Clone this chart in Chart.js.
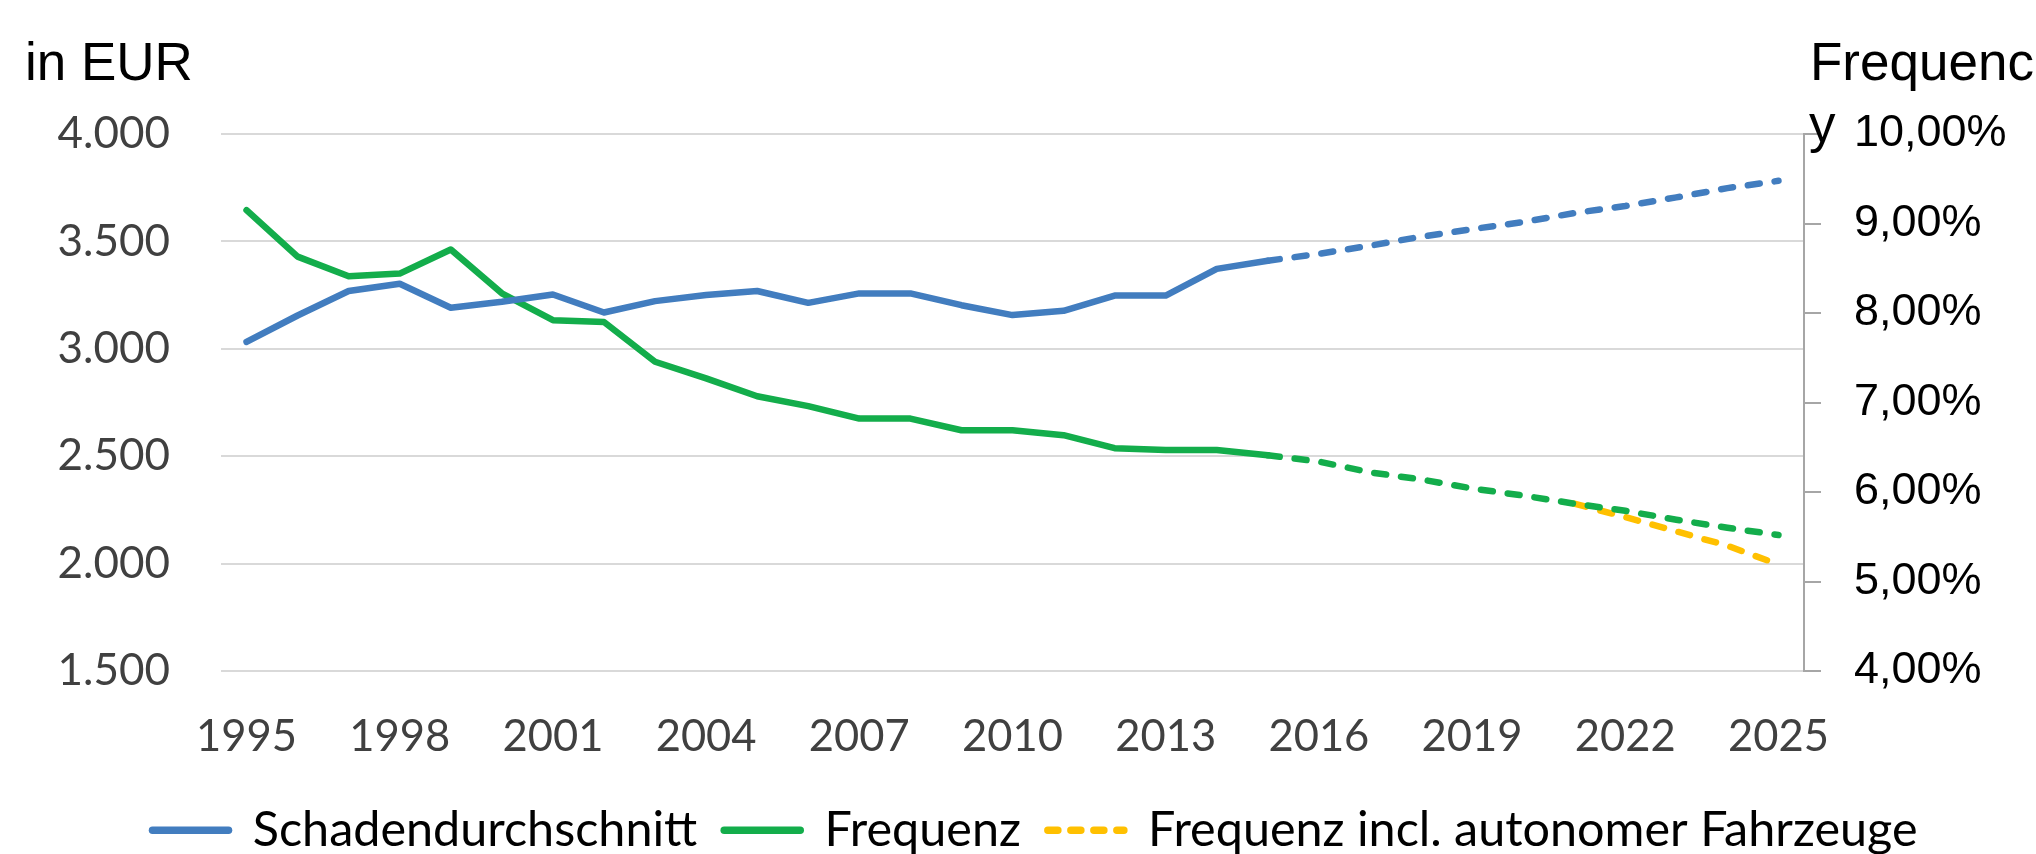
<!DOCTYPE html>
<html>
<head>
<meta charset="utf-8">
<script src="https://cdn.jsdelivr.net/npm/chart.js@4.4.1/dist/chart.umd.min.js"></script>
<style>
  html, body { margin: 0; padding: 0; background: #ffffff; }
  #wrap { width: 2036px; height: 854px; }
</style>
</head>
<body>
<div id="wrap"><canvas id="c" width="2036" height="854"></canvas></div>
<script>
// ---- data ----
const years = ['1995','1996','1997','1998','1999','2000','2001','2002','2003','2004',
               '2005','2006','2007','2008','2009','2010','2011','2012','2013','2014',
               '2015','2016','2017','2018','2019','2020','2021','2022','2023','2024','2025'];
const xTickLabels = ['1995','1998','2001','2004','2007','2010','2013','2016','2019','2022','2025'];

// Schadendurchschnitt in EUR (left axis); from 2015 on: projection (dashed)
const schadendurchschnitt = [3032, 3155, 3269, 3303, 3191, 3219, 3253, 3169, 3222, 3250,
                             3269, 3214, 3258, 3258, 3203, 3157, 3177, 3248, 3248, 3372,
                             3410, 3442, 3480, 3522, 3557, 3590, 3632, 3665, 3705, 3748, 3782];
// Frequenz in % (right axis); from 2015 on: projection (dashed)
const frequenz = [9.15, 8.63, 8.41, 8.44, 8.71, 8.22, 7.92, 7.90, 7.455, 7.27,
                  7.07, 6.96, 6.82, 6.82, 6.69, 6.69, 6.635, 6.49, 6.47, 6.47,
                  6.41, 6.34, 6.22, 6.14, 6.04, 5.96, 5.87, 5.79, 5.69, 5.60, 5.52];
// Frequenz incl. autonomer Fahrzeuge in % (right axis)
const frequenzAutonom = [null, null, null, null, null, null, null, null, null, null,
                         null, null, null, null, null, null, null, null, null, null,
                         null, null, null, null, null, null, 5.87, 5.72, 5.56, 5.40, 5.19];

const projectionStartYear = '2015';
const leftTicks = [1500, 2000, 2500, 3000, 3500, 4000];
const rightTicks = [4, 5, 6, 7, 8, 9, 10];
const leftAxisTitle = 'in EUR';
const rightAxisTitleLines = ['Frequenc', 'y'];
const seriesNames = ['Schadendurchschnitt', 'Frequenz', 'Frequenz incl. autonomer Fahrzeuge'];

// ---- styling ----
const BLUE = '#427DBF';
const GREEN = '#13AD4B';
const GOLD = '#FFC000';
const DASH = [12, 15];
const LEGEND_DASH = [10, 13];
const projIdx = years.indexOf(projectionStartYear);

const fmtEUR = v => {
  const s = String(Math.round(v));
  return s.replace(/\B(?=(\d{3})+(?!\d))/g, '.');
};
const fmtPct = v => v.toFixed(2).replace('.', ',') + '%';

const titlePlugin = {
  id: 'axisTitlesTop',
  afterDraw(chart) {
    const { ctx, chartArea, scales } = chart;
    ctx.save();
    ctx.font = '53px "Liberation Sans", Arial, sans-serif';
    ctx.fillStyle = '#000000';
    ctx.textAlign = 'left';
    ctx.textBaseline = 'alphabetic';
    ctx.fillText(leftAxisTitle, 25, chartArea.top - 54);
    ctx.fillText(rightAxisTitleLines[0], scales.y1.left + 6, chartArea.top - 54);
    ctx.fillText(rightAxisTitleLines[1], scales.y1.left + 5, chartArea.top + 8);
    ctx.restore();
  }
};

const projSegment = {
  borderDash: c => (c.p0DataIndex >= projIdx ? DASH : undefined)
};

new Chart(document.getElementById('c'), {
  type: 'line',
  data: {
    labels: years,
    datasets: [
      {
        label: seriesNames[0],
        data: schadendurchschnitt,
        yAxisID: 'y',
        borderColor: BLUE,
        backgroundColor: BLUE,
        borderWidth: 6.5,
        borderCapStyle: 'round',
        borderJoinStyle: 'round',
        pointRadius: 0,
        tension: 0,
        segment: projSegment
      },
      {
        label: seriesNames[1],
        data: frequenz,
        yAxisID: 'y1',
        borderColor: GREEN,
        backgroundColor: GREEN,
        borderWidth: 6.5,
        borderCapStyle: 'round',
        borderJoinStyle: 'round',
        pointRadius: 0,
        tension: 0,
        segment: projSegment
      },
      {
        label: seriesNames[2],
        data: frequenzAutonom,
        yAxisID: 'y1',
        borderColor: GOLD,
        backgroundColor: GOLD,
        borderWidth: 6.5,
        borderCapStyle: 'round',
        borderJoinStyle: 'round',
        borderDash: DASH,
        pointRadius: 0,
        tension: 0,
        spanGaps: false
      }
    ]
  },
  options: {
    responsive: false,
    animation: false,
    layout: { padding: { top: 134, left: 34, right: 0, bottom: 0 } },
    plugins: {
      tooltip: { enabled: false },
      title: { display: false },
      legend: {
        position: 'bottom',
        align: 'center',
        maxHeight: 75,
        labels: {
          usePointStyle: true,
          pointStyle: 'line',
          pointStyleWidth: 76,
          padding: 27,
          color: '#000000',
          font: { family: 'Lato', size: 48.5 },
          generateLabels: chart => {
            const items = Chart.defaults.plugins.legend.labels.generateLabels(chart);
            items.forEach(it => {
              const ds = chart.data.datasets[it.datasetIndex];
              it.lineWidth = 7.5;
              it.lineDash = ds.borderDash ? LEGEND_DASH : [];
              it.lineCap = 'round';
              it.strokeStyle = ds.borderColor;
              it.fillStyle = ds.borderColor;
            });
            return items;
          }
        }
      }
    },
    scales: {
      x: {
        type: 'category',
        offset: true,
        grid: { display: false, drawTicks: false },
        border: { display: false },
        ticks: {
          autoSkip: false,
          maxRotation: 0,
          minRotation: 0,
          padding: 40,
          color: '#404040',
          font: { family: 'Lato', size: 43.5 },
          callback: function (value) {
            const lab = this.getLabelForValue(value);
            return xTickLabels.includes(lab) ? lab : '';
          }
        },
        afterFit: s => { s.height = 108; }
      },
      y: {
        position: 'left',
        min: leftTicks[0],
        max: leftTicks[leftTicks.length - 1],
        afterBuildTicks: s => { s.ticks = leftTicks.map(v => ({ value: v })); },
        grid: { color: '#D9D9D9', lineWidth: 2, drawTicks: false },
        border: { display: false },
        ticks: {
          padding: 51,
          color: '#404040',
          font: { family: 'Lato', size: 44 },
          callback: v => fmtEUR(v)
        },
        afterFit: s => { s.width = 187; }
      },
      y1: {
        position: 'right',
        min: rightTicks[0],
        max: rightTicks[rightTicks.length - 1],
        afterBuildTicks: s => { s.ticks = rightTicks.map(v => ({ value: v })); },
        grid: { drawOnChartArea: false, drawTicks: true, tickLength: 17, color: '#A6A6A6', lineWidth: 2 },
        border: { display: true, color: '#A6A6A6', width: 2 },
        ticks: {
          padding: 33,
          color: '#000000',
          font: { family: '"Liberation Sans", Arial, sans-serif', size: 45 },
          callback: v => fmtPct(v)
        },
        afterFit: s => { s.width = 232; }
      }
    }
  },
  plugins: [titlePlugin]
});
</script>
</body>
</html>
